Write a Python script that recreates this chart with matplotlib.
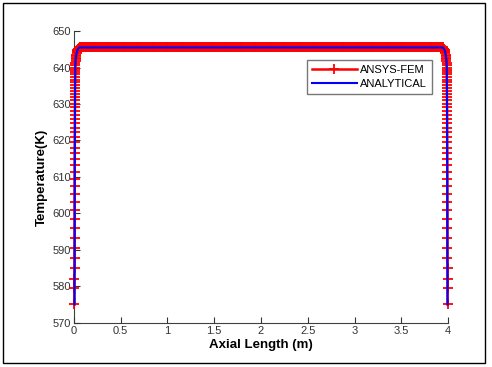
import numpy as np
import matplotlib
matplotlib.use('Agg')
import matplotlib.pyplot as plt
from matplotlib.patches import Rectangle

plt.rcParams['font.family'] = ['Liberation Sans', 'DejaVu Sans']

# temperature readings near the inlet end (K)
T_end = [575.1, 579.5, 582.0, 585.0, 587.9, 590.6, 593.2, 596.0, 598.5, 600.9,
         603.2, 605.4, 607.5, 609.5, 611.4, 613.2, 614.9, 616.5, 618.0, 619.5,
         620.9, 622.2, 623.5, 624.7, 625.9, 627.0, 628.1, 629.1, 630.1, 631.0,
         631.9, 632.8, 633.6, 634.4, 635.2, 636.0, 636.7, 637.4, 638.1, 638.8,
         639.4, 640.0, 640.6, 641.2, 641.7, 642.2, 642.7, 643.1, 643.5, 643.9,
         644.2, 644.5, 644.8, 645.0, 645.2, 645.4, 645.5]
# axial position of those readings (m)
x_end = [0.0070, 0.0072, 0.0074, 0.0076, 0.0078, 0.0080, 0.0082, 0.0084, 0.0086, 0.0088,
         0.0090, 0.0092, 0.0094, 0.0096, 0.0098, 0.0100, 0.0102, 0.0104, 0.0106, 0.0108,
         0.0110, 0.0112, 0.0114, 0.0116, 0.0118, 0.0120, 0.0122, 0.0124, 0.0126, 0.0128,
         0.0130, 0.0132, 0.0134, 0.0136, 0.0138, 0.0140, 0.0142, 0.0144, 0.0146, 0.0148,
         0.0150, 0.0152, 0.0160, 0.0170, 0.0185, 0.0200, 0.0220, 0.0240, 0.0265, 0.0290,
         0.0320, 0.0350, 0.0390, 0.0430, 0.0480, 0.0540, 0.0610]
T_plateau = 645.5
length = 4.0
node_step = 0.01

x_mid = np.arange(x_end[-1] + node_step, length - x_end[-1], node_step)
x_all = np.concatenate([x_end, x_mid, length - np.array(x_end[::-1])])
T_all = np.concatenate([T_end, np.full(len(x_mid), T_plateau), T_end[::-1]])

fig = plt.figure(figsize=(4.92, 3.67), dpi=100)
ax = fig.add_axes([0.150, 0.12, 0.761, 0.7955])

ax.plot(x_all, T_all, color='red', lw=1.8, marker='+', ms=6.5, mew=1.3,
        label='ANSYS-FEM', clip_on=False, zorder=3)
ax.plot(x_all, T_all, color='blue', lw=1.5, label='ANALYTICAL', clip_on=False, zorder=4)

ax.set_xlim(0, 4)
ax.set_ylim(570, 650)
ax.set_xticks(np.arange(0, 4.01, 0.5))
ax.set_xticklabels(['0', '0.5', '1', '1.5', '2', '2.5', '3', '3.5', '4'])
ax.set_yticks(np.arange(570, 651, 10))
ax.tick_params(direction='in', length=4, labelsize=8, colors='#333333', pad=2)
for s in ['top', 'right']:
    ax.spines[s].set_visible(False)
for s in ['left', 'bottom']:
    ax.spines[s].set_color('#404040')
    ax.spines[s].set_zorder(1)

ax.set_xlabel('Axial Length (m)', fontsize=9.5, fontweight='bold', labelpad=2)
ax.set_ylabel('Temperature(K)', fontsize=9.5, fontweight='bold', labelpad=3)

leg = ax.legend(loc='upper right', bbox_to_anchor=(0.956, 0.90), borderaxespad=0,
                fontsize=8, fancybox=False, handlelength=4.0, handletextpad=0.3,
                borderpad=0.45, labelspacing=0.3)
leg.get_frame().set_edgecolor('#555555')
leg.get_frame().set_linewidth(1)

fig.add_artist(Rectangle((3 / 492, 4 / 367), 482 / 492, 360 / 367, transform=fig.transFigure,
                         fill=False, edgecolor='black', lw=1))

fig.savefig('out.png', dpi=100)
